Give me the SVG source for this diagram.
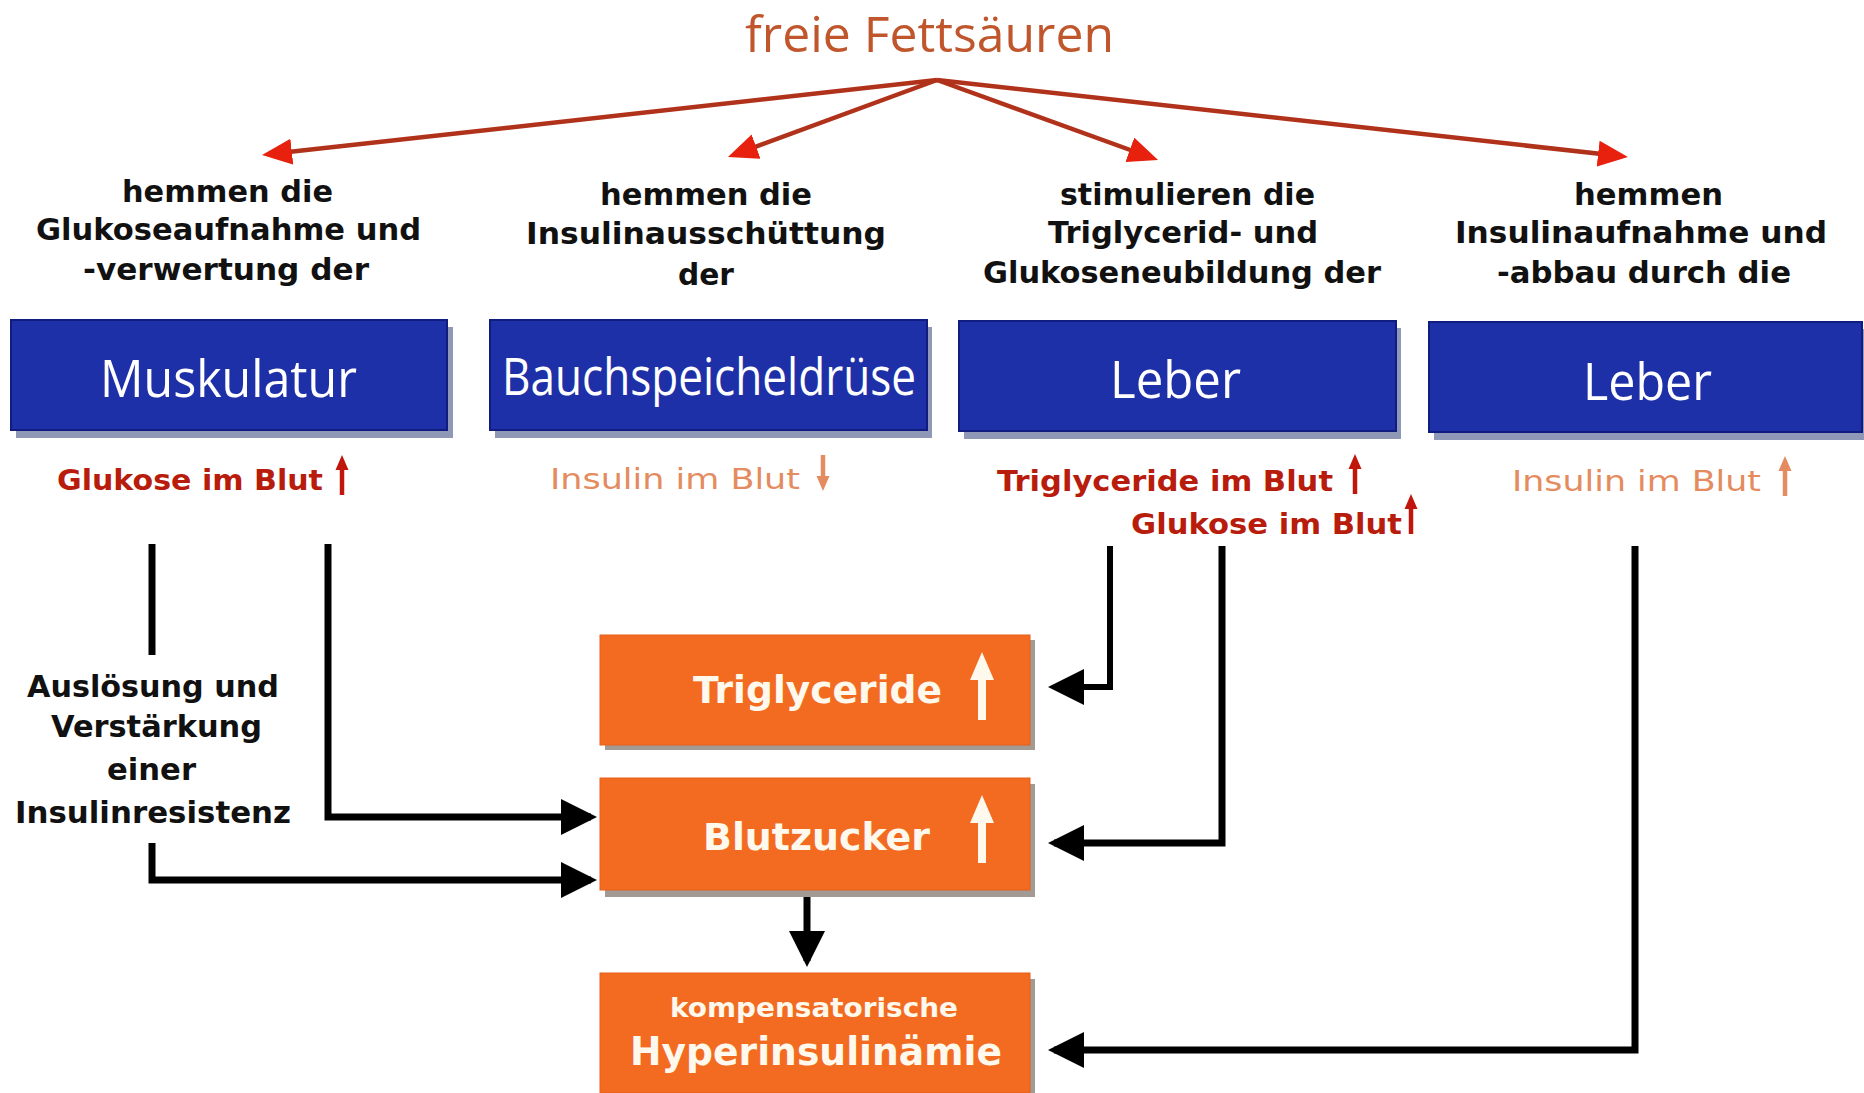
<svg xmlns="http://www.w3.org/2000/svg" xmlns:xlink="http://www.w3.org/1999/xlink" width="1864" height="1093" viewBox="0 0 1864 1093">
<style>
.title{font-family:"Open Sans","Liberation Sans",sans-serif;font-size:50px;fill:#c0562c}
.lbl{font-family:"DejaVu Sans","Liberation Sans",sans-serif;font-weight:bold;font-size:30px;fill:#111}
.blue{fill:#1e30a8;stroke:#101c80;stroke-width:2}
.bshadow{fill:#9098b8}
.btxt{font-family:"Open Sans","Liberation Sans",sans-serif;font-size:51px;fill:#fff}
.red{font-family:"DejaVu Sans","Liberation Sans",sans-serif;font-weight:bold;font-size:28px;fill:#b81c0c}
.sal{font-family:"DejaVu Sans","Liberation Sans",sans-serif;font-size:28px;fill:#e48b60}
.org{fill:#f26b21;stroke:#e8601a;stroke-width:1}
.oshadow{fill:#a39a94}
.otxt{font-family:"DejaVu Sans","Liberation Sans",sans-serif;font-weight:bold;fill:#fff8ec}
.fan{fill:none;stroke:#b0321a;stroke-width:4.5}
.conn{fill:none;stroke:#000;stroke-width:7}
</style>
<defs>
<marker id="redHead" markerUnits="userSpaceOnUse" viewBox="0 0 30 26" markerWidth="30" markerHeight="26" refX="24" refY="13" orient="auto">
<path d="M0,0 L30,13 L0,26 z" fill="#e8200e"/>
</marker>
<marker id="blackHead" markerUnits="userSpaceOnUse" viewBox="0 0 36 36" markerWidth="36" markerHeight="36" refX="30" refY="18" orient="auto">
<path d="M0,0 L36,18 L0,36 z" fill="#000"/>
</marker>
<g id="smallUp">
<path d="M0,0 L-6.5,15 L6.5,15 z" fill="currentColor"/>
<path d="M0,10 V40" stroke="currentColor" stroke-width="4.5" fill="none"/>
</g>
<g id="smallDown">
<path d="M0,36 L-6.5,21 L6.5,21 z" fill="currentColor"/>
<path d="M0,0 V26" stroke="currentColor" stroke-width="4.5" fill="none"/>
</g>
<g id="bigUp">
<path d="M0,0 L12,28 L4,28 L4,68 L-4,68 L-4,28 L-12,28 z" fill="#fff8ec"/>
</g>
</defs>

<g id="title">
<text class="title" x="745" y="52" textLength="369" lengthAdjust="spacingAndGlyphs">freie Fettsäuren</text>
</g>

<g id="connectors">
<path class="fan" d="M937,80 L268,154.3" marker-end="url(#redHead)"/>
<path class="fan" d="M937,80 L733.6,154.9" marker-end="url(#redHead)"/>
<path class="fan" d="M937,80 L1152.4,158" marker-end="url(#redHead)"/>
<path class="fan" d="M937,80 L1622,156.3" marker-end="url(#redHead)"/>
<path class="conn" d="M152,544 V655"/>
<path class="conn" d="M328,544 V817 H591" marker-end="url(#blackHead)"/>
<path class="conn" d="M152,843 V880 H591" marker-end="url(#blackHead)"/>
<path class="conn" style="stroke-width:6" d="M1110,546 V687 H1054" marker-end="url(#blackHead)"/>
<path class="conn" d="M1222,546 V843 H1054" marker-end="url(#blackHead)"/>
<path class="conn" d="M1635,546 V1050 H1054" marker-end="url(#blackHead)"/>
<path class="conn" d="M807,895 V961" marker-end="url(#blackHead)"/>
</g>

<g id="label1">
<text class="lbl" x="122" y="202" textLength="211" lengthAdjust="spacingAndGlyphs">hemmen die</text>
<text class="lbl" x="36" y="240" textLength="385" lengthAdjust="spacingAndGlyphs">Glukoseaufnahme und</text>
<text class="lbl" x="83" y="280" textLength="286" lengthAdjust="spacingAndGlyphs">-verwertung der</text>
</g>
<g id="label2">
<text class="lbl" x="600" y="205" textLength="212" lengthAdjust="spacingAndGlyphs">hemmen die</text>
<text class="lbl" x="526" y="244" textLength="360" lengthAdjust="spacingAndGlyphs">Insulinausschüttung</text>
<text class="lbl" x="678" y="285" textLength="56" lengthAdjust="spacingAndGlyphs">der</text>
</g>
<g id="label3">
<text class="lbl" x="1060" y="205" textLength="255" lengthAdjust="spacingAndGlyphs">stimulieren die</text>
<text class="lbl" x="1048" y="243" textLength="270" lengthAdjust="spacingAndGlyphs">Triglycerid- und</text>
<text class="lbl" x="983" y="283" textLength="398" lengthAdjust="spacingAndGlyphs">Glukoseneubildung der</text>
</g>
<g id="label4">
<text class="lbl" x="1574" y="205" textLength="149" lengthAdjust="spacingAndGlyphs">hemmen</text>
<text class="lbl" x="1455" y="243" textLength="372" lengthAdjust="spacingAndGlyphs">Insulinaufnahme und</text>
<text class="lbl" x="1497" y="283" textLength="294" lengthAdjust="spacingAndGlyphs">-abbau durch die</text>
</g>

<g id="muskulatur">
<rect class="bshadow" x="16" y="327" width="437" height="111"/>
<rect class="blue" x="11" y="320" width="436" height="110"/>
<text class="btxt" x="100" y="397" textLength="257" lengthAdjust="spacingAndGlyphs">Muskulatur</text>
</g>
<g id="bauchspeicheldruese">
<rect class="bshadow" x="495" y="327" width="437" height="111"/>
<rect class="blue" x="490" y="320" width="437" height="110"/>
<text class="btxt" x="502" y="395" textLength="414" lengthAdjust="spacingAndGlyphs">Bauchspeicheldrüse</text>
</g>
<g id="leber1">
<rect class="bshadow" x="964" y="328" width="437" height="111"/>
<rect class="blue" x="959" y="321" width="437" height="110"/>
<text class="btxt" x="1110" y="398" textLength="131" lengthAdjust="spacingAndGlyphs">Leber</text>
</g>
<g id="leber2">
<rect class="bshadow" x="1434" y="329" width="433" height="111"/>
<rect class="blue" x="1429" y="322" width="433" height="110"/>
<text class="btxt" x="1583" y="400" textLength="129" lengthAdjust="spacingAndGlyphs">Leber</text>
</g>

<g id="effect1">
<text class="red" x="57" y="490" textLength="266" lengthAdjust="spacingAndGlyphs">Glukose im Blut</text>
<use xlink:href="#smallUp" x="342" y="455" style="color:#c0160c"/>
</g>
<g id="effect2">
<text class="sal" x="550" y="489" textLength="250" lengthAdjust="spacingAndGlyphs">Insulin im Blut</text>
<use xlink:href="#smallDown" x="823" y="455" style="color:#e48b60"/>
</g>
<g id="effect3">
<text class="red" x="997" y="491" textLength="336" lengthAdjust="spacingAndGlyphs">Triglyceride im Blut</text>
<use xlink:href="#smallUp" x="1355" y="454" style="color:#c0160c"/>
<text class="red" x="1131" y="534" textLength="271" lengthAdjust="spacingAndGlyphs">Glukose im Blut</text>
<use xlink:href="#smallUp" x="1411" y="494" style="color:#c0160c"/>
</g>
<g id="effect4">
<text class="sal" x="1512" y="491" textLength="249" lengthAdjust="spacingAndGlyphs">Insulin im Blut</text>
<use xlink:href="#smallUp" x="1785" y="456" style="color:#e48b60"/>
</g>

<g id="resistenz">
<text class="lbl" x="27" y="697" textLength="252" lengthAdjust="spacingAndGlyphs">Auslösung und</text>
<text class="lbl" x="51" y="737" textLength="211" lengthAdjust="spacingAndGlyphs">Verstärkung</text>
<text class="lbl" x="107" y="780" textLength="89" lengthAdjust="spacingAndGlyphs">einer</text>
<text class="lbl" x="15" y="823" textLength="276" lengthAdjust="spacingAndGlyphs">Insulinresistenz</text>
</g>

<g id="triglyceride">
<rect class="oshadow" x="605" y="640" width="430" height="110"/>
<rect class="org" x="600" y="635" width="430" height="110"/>
<text class="otxt" x="693" y="703" font-size="37" textLength="249" lengthAdjust="spacingAndGlyphs">Triglyceride</text>
<use xlink:href="#bigUp" x="982" y="652"/>
</g>
<g id="blutzucker">
<rect class="oshadow" x="605" y="784" width="430" height="113"/>
<rect class="org" x="600" y="778" width="430" height="112"/>
<text class="otxt" x="703" y="850" font-size="37" textLength="227" lengthAdjust="spacingAndGlyphs">Blutzucker</text>
<use xlink:href="#bigUp" x="982" y="795"/>
</g>
<g id="hyperinsulinaemie">
<rect class="oshadow" x="605" y="979" width="430" height="120"/>
<rect class="org" x="600" y="973" width="430" height="120"/>
<text class="otxt" x="670" y="1017" font-size="26" textLength="288" lengthAdjust="spacingAndGlyphs">kompensatorische</text>
<text class="otxt" x="630" y="1065" font-size="39" textLength="372" lengthAdjust="spacingAndGlyphs">Hyperinsulinämie</text>
</g>
</svg>
